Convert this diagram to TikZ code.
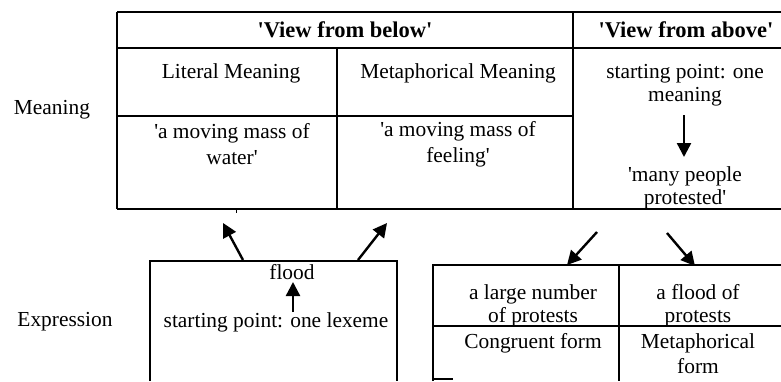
\documentclass[tikz,border=0pt]{standalone}
\usepackage{fontspec}
\setmainfont{Liberation Serif}[Ligatures=TeXOff]
\usetikzlibrary{arrows.meta}
\begin{document}
\begin{tikzpicture}[x=1pt,y=-1pt,
  rule/.style={line width=1.4pt},
  lab/.style={inner sep=0pt,align=center,font=\fontsize{21.4}{23}\selectfont},
  hd/.style={lab,font=\fontsize{22.5}{24}\selectfont\bfseries},
  arr/.style={line width=2.4pt,-{Triangle[length=14pt,width=14pt]}}]
\useasboundingbox (0,0) rectangle (781,381);
% top table
\draw[rule] (117,12) -- (781,12);
\draw[rule] (117,48) -- (781,48);
\draw[rule] (117,116) -- (573,116);
\draw[rule] (117,209) -- (781,209);
\draw[rule] (117,12) -- (117,209);
\draw[rule] (337,48) -- (337,209);
\draw[rule] (573,12) -- (573,209);
\draw[line width=1pt] (236,209) -- (236,213);
% bottom-left box
\draw[rule] (150,381) -- (150,261) -- (397,261) -- (397,381);
% bottom-right table
\draw[rule] (433,381) -- (433,265) -- (781,265);
\draw[rule] (433,326) -- (781,326);
\draw[rule] (619,265) -- (619,381);
\draw[rule] (433,379) -- (453,379);
% labels
\node[lab] (meaning) at (52,110) {Meaning};
\node[lab] (expression) at (65,322) {Expression};
\node[hd] (below) at (345,30) {'View from below'};
\node[hd] (above) at (686,30) {'View from above'};
\node[lab] (literal) at (231,73) {Literal Meaning};
\node[lab] (metaph) at (458,73) {Metaphorical Meaning};
\node[lab] (water) at (232,144) {'a moving mass of\\[3pt]water'};
\node[lab] (feeling) at (458,144) {'a moving mass of\\[3pt]feeling'};
\node[lab] (onemeaning) at (685,85) {starting point: one\\meaning};
\node[lab] (many) at (685,188) {'many people\\protested'};
\node[lab] (flood) at (292,272) {flood};
\node[lab] (lexeme) at (276,322) {starting point: one lexeme};
\node[lab] (large) at (533,306) {a large number\\of protests};
\node[lab] (floodof) at (698,306) {a flood of\\protests};
\node[lab] (congruent) at (533,343) {Congruent form};
\node[lab] (metform) at (698,354) {Metaphorical\\[2pt]form};
% arrow end points
\coordinate (a1s) at (243,260); \coordinate (a1e) at (223,223);
\coordinate (a2s) at (358,260); \coordinate (a2e) at (387,223);
\coordinate (a3s) at (597,232); \coordinate (a3e) at (567,265);
\coordinate (a4s) at (667,233); \coordinate (a4e) at (695,266);
\coordinate (a5s) at (684,115); \coordinate (a5e) at (684,157);
\coordinate (a6s) at (293,312); \coordinate (a6e) at (293,282);
\draw[arr] (a1s) -- (a1e);
\draw[arr] (a2s) -- (a2e);
\draw[arr] (a3s) -- (a3e);
\draw[arr] (a4s) -- (a4e);
\draw[arr] (a5s) -- (a5e);
\draw[arr] (a6s) -- (a6e);
\end{tikzpicture}
\end{document}
